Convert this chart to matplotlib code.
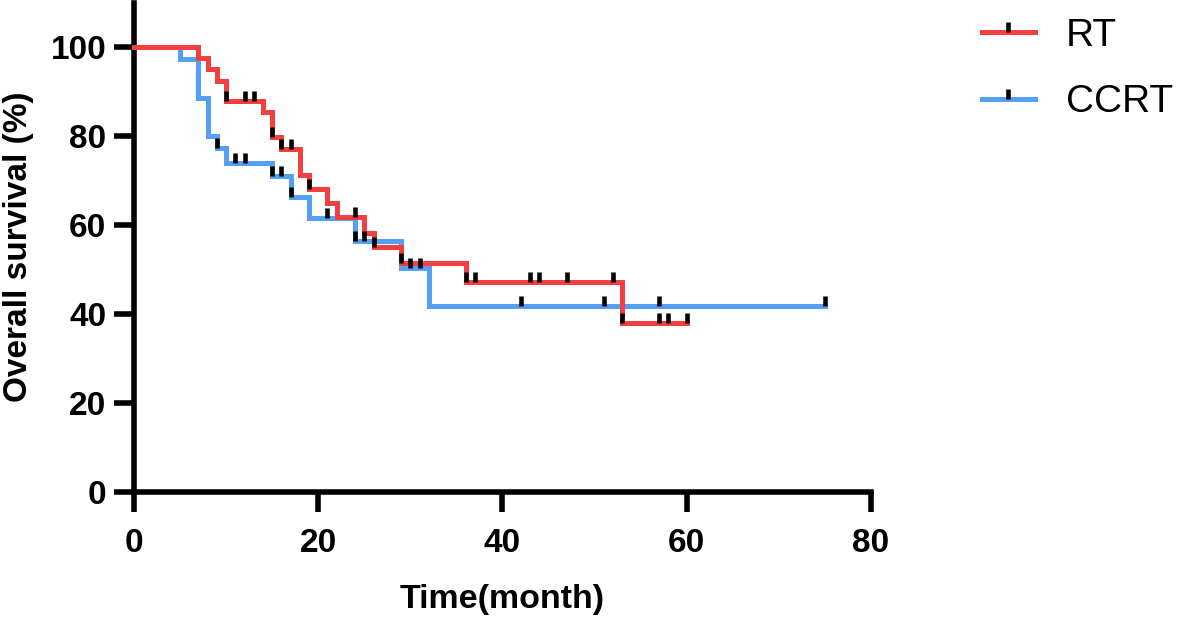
import matplotlib
matplotlib.use("Agg")
import matplotlib.pyplot as plt
from matplotlib.path import Path
from matplotlib.lines import Line2D

RED, BLUE, INK = "#f23f3f", "#55a0f2", "#000000"
plt.rcParams["font.family"] = ["Liberation Sans", "DejaVu Sans"]

# Kaplan-Meier steps (month, overall survival %)
rt_t = [0, 7, 8, 9, 10, 14, 15, 16, 18, 19, 21, 22, 25, 26, 29, 36, 53, 60]
rt_s = [100, 97.5, 95.1, 92.4, 87.9, 85.5, 79.8, 77.0, 71.2, 68.1, 65.0,
        61.9, 58.1, 55.0, 51.5, 47.3, 38.0, 38.0]
rt_cens_t = [10, 12, 13, 15, 16, 17, 19, 24, 26, 29, 36, 37, 43, 44, 47, 52,
             53, 57, 58, 60]
rt_cens_s = [87.9, 87.9, 87.9, 79.8, 77.0, 77.0, 68.1, 61.9, 55.0, 51.5,
             47.3, 47.3, 47.3, 47.3, 47.3, 47.3, 38.0, 38.0, 38.0, 38.0]

ccrt_t = [0, 5, 7, 8, 9, 10, 15, 17, 19, 24, 29, 32, 75]
ccrt_s = [100, 97.3, 88.5, 80.0, 77.2, 74.0, 70.9, 66.4, 61.6, 56.5, 50.4,
          41.9, 41.9]
ccrt_cens_t = [9, 11, 12, 15, 16, 17, 21, 24, 25, 30, 31, 42, 51, 57, 75]
ccrt_cens_s = [77.2, 74.0, 74.0, 70.9, 70.9, 66.4, 61.6, 56.5, 56.5, 50.4,
               50.4, 41.9, 41.9, 41.9, 41.9]

# censor tick: starts on the curve and points up
TICK = Path([(0, 0), (0, 1)], [Path.MOVETO, Path.LINETO])
cens_kw = dict(ls="none", marker=TICK, ms=14.5, mew=3.3, mec=INK, mfc=INK,
               zorder=5, clip_on=False)

fig = plt.figure(figsize=(11.77, 6.17), dpi=100)
fig.patch.set_facecolor("white")
ax = fig.add_axes([134 / 1177, 1 - 492 / 617, 737 / 1177, 489.5 / 617])

ax.step(ccrt_t, ccrt_s, where="post", color=BLUE, lw=3.6, zorder=3,
        clip_on=False, solid_joinstyle="miter")
ax.step(rt_t, rt_s, where="post", color=RED, lw=3.6, zorder=4,
        clip_on=False, solid_joinstyle="miter")
ax.plot(ccrt_cens_t, ccrt_cens_s, **cens_kw)
ax.plot(rt_cens_t, rt_cens_s, **cens_kw)

ax.set_xlim(0, 80)
ax.set_ylim(0, 110)
ax.set_xticks([0, 20, 40, 60, 80])
ax.set_yticks([0, 20, 40, 60, 80, 100])
for s in ["top", "right"]:
    ax.spines[s].set_visible(False)
for s in ["left", "bottom"]:
    ax.spines[s].set_linewidth(4.0)
    ax.spines[s].set_color(INK)
ax.tick_params(width=4.0, length=14.5, color=INK, labelsize=24)
ax.tick_params(axis="x", pad=11.5)
ax.tick_params(axis="y", pad=5.5)
for lab in ax.get_xticklabels() + ax.get_yticklabels():
    lab.set_fontweight("bold")

ax.set_xlabel("Time(month)", fontsize=24.5, fontweight="bold", labelpad=18)
ax.set_ylabel("Overall survival (%)", fontsize=24, fontweight="bold",
              labelpad=12)

handles = [Line2D([], [], color=c, lw=3.6, marker=TICK, ms=14.5, mew=3.3,
                  mec=INK) for c in (RED, BLUE)]
fig.legend(handles, ["RT", "CCRT"], loc="upper left",
           bbox_to_anchor=(982 / 1177, 1 - 18 / 617), frameon=False,
           fontsize=28, handlelength=1.36, handletextpad=0.8,
           labelspacing=0.78, borderpad=0, borderaxespad=0, numpoints=1)

fig.savefig("out.png", dpi=100, facecolor="white")
